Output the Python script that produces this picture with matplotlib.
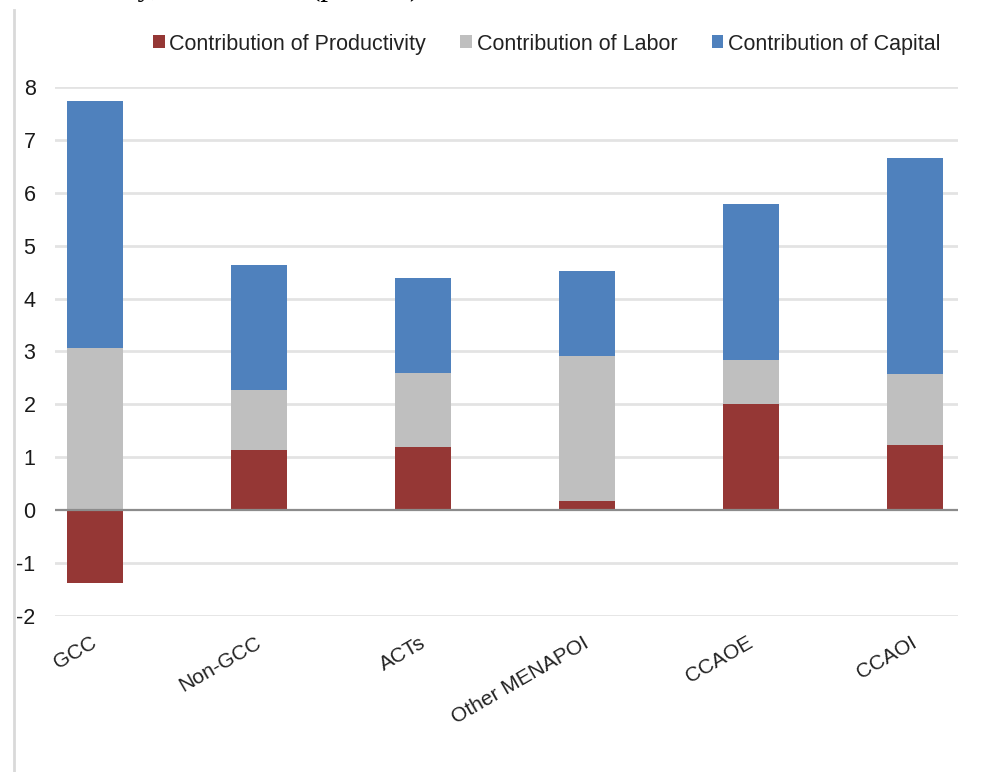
import matplotlib.pyplot as plt
from matplotlib.patches import Patch
from matplotlib.lines import Line2D

# Growth decomposition by country group (percentage points)
groups = ['GCC', 'Non-GCC', 'ACTs', 'Other MENAPOI', 'CCAOE', 'CCAOI']
productivity = [-1.38, 1.13, 1.19, 0.17, 2.00, 1.23]
labor = [3.06, 1.14, 1.40, 2.74, 0.84, 1.34]
capital = [4.67, 2.36, 1.80, 1.61, 2.94, 4.08]
yticks = [-2, -1, 0, 1, 2, 3, 4, 5, 6, 7, 8]

c_prod = '#953735'
c_labor = '#bfbfbf'
c_cap = '#4f81bd'

plt.rcParams['font.family'] = ['Liberation Sans', 'DejaVu Sans']

fig = plt.figure(figsize=(9.94, 7.72), dpi=100, facecolor='white')
ax = fig.add_axes([0.0553, 0.2021, 0.9085, 0.6852])

x = list(range(len(groups)))
w = 0.34

# positive parts stack upward from zero, negative productivity hangs below
prod_bottom = [0] * len(groups)
labor_bottom = [max(p, 0) for p in productivity]
cap_bottom = [lb + l for lb, l in zip(labor_bottom, labor)]

ax.bar(x, productivity, w, bottom=prod_bottom, color=c_prod, zorder=3)
ax.bar(x, labor, w, bottom=labor_bottom, color=c_labor, zorder=3)
ax.bar(x, capital, w, bottom=cap_bottom, color=c_cap, zorder=3)

ax.set_ylim(-2, 8)
ax.set_xlim(-0.244, 5.262)
ax.set_yticks(yticks)
ax.set_yticklabels([str(t) for t in yticks])
for t in yticks:
    if t == 0:
        ax.axhline(t, color='#8c8c8c', lw=1.6, zorder=4)
    else:
        ax.axhline(t, color='#e3e3e3', lw=2, zorder=1)

for s in ax.spines.values():
    s.set_visible(False)
ax.tick_params(axis='y', length=0, pad=14, labelsize=15.5, labelcolor='#1a1a1a')
ax.tick_params(axis='x', length=0)
ax.set_xticks(x)
ax.set_xticklabels([])

for xi, name in zip(x, groups):
    ax.annotate(name, xy=(xi, 0), xycoords=('data', 'axes fraction'),
                xytext=(0.5, -18.5), textcoords='offset points',
                rotation=30, rotation_mode='anchor', ha='right', va='center',
                fontsize=15, color='#222222')

handles = [Patch(facecolor=c_prod), Patch(facecolor=c_labor), Patch(facecolor=c_cap)]
labels = ['Contribution of Productivity', 'Contribution of Labor', 'Contribution of Capital']
fig.legend(handles, labels, loc='center', bbox_to_anchor=(0.55, 0.943), ncol=3,
           frameon=False, fontsize=15.5, handlelength=0.55, handleheight=0.55,
           handletextpad=0.2, columnspacing=1.6, labelcolor='#222222')

# caption above the chart, mostly cut off by the top edge
fig.text(0.053, 1.0 + 4.5 / 772, 'Country, 2000\u20132014 (percent)', family='Liberation Serif',
         fontsize=22, ha='left', va='baseline', color='black')

# thin border line on the left side
fig.add_artist(Line2D([14 / 994, 14 / 994], [0, 1 - 10 / 772], color='#d9d9d9', lw=2))

fig.savefig('out.png', dpi=100, facecolor='white')
